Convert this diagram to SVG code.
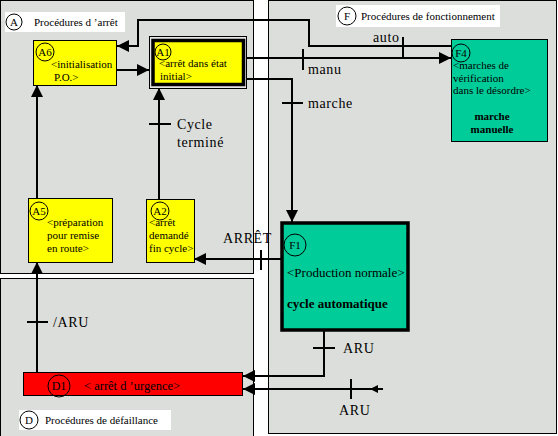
<svg xmlns="http://www.w3.org/2000/svg" width="558" height="436" viewBox="0 0 558 436">
<defs>
<marker id="ah" viewBox="0 0 12 12" refX="12" refY="6" markerWidth="12" markerHeight="12" markerUnits="userSpaceOnUse" orient="auto">
<path d="M0,0 L12,6 L0,12 Z" fill="#000"/>
</marker>
<marker id="ahs" viewBox="0 0 8 8" refX="8" refY="4" markerWidth="8" markerHeight="8" markerUnits="userSpaceOnUse" orient="auto">
<path d="M0,0 L8,4 L0,8 Z" fill="#000"/>
</marker>
</defs>
<style>
.panel{fill:#dcdedb;stroke:#000;stroke-width:1}
.lblbox{fill:#fff;stroke:none}
.c{fill:none;stroke:#000;stroke-width:1}
text{font-family:'Liberation Serif','Times New Roman',serif;fill:#000}
.ps{font-size:11px}
.bx{font-size:11px}
.lb{font-size:14px;letter-spacing:0.6px}
.yel{fill:#ffff00;stroke:#000;stroke-width:1}
.ln{fill:none;stroke:#000;stroke-width:2}
.tk{stroke:#000;stroke-width:2}
</style>
<rect width="558" height="436" fill="#fff"/>
<g id="panelA">
<rect class="panel" x="0.5" y="0.5" width="253" height="273"/>
<rect class="lblbox" x="5" y="12" width="120" height="20"/>
<circle class="c" cx="14" cy="22" r="8"/>
<text class="ps" x="14" y="26" text-anchor="middle">A</text>
<text class="ps" x="34" y="26">Procédures d ’arrêt</text>
</g>
<g id="panelD">
<rect class="panel" x="0.5" y="278.5" width="253" height="160"/>
<rect class="lblbox" x="19" y="410" width="152" height="20"/>
<circle class="c" cx="29" cy="420" r="9"/>
<text class="ps" x="29" y="424" text-anchor="middle">D</text>
<text class="ps" x="45" y="424">Procédures de défaillance</text>
</g>
<g id="panelF">
<rect class="panel" x="268.5" y="0.5" width="288" height="433"/>
<rect class="lblbox" x="336" y="5" width="164" height="22"/>
<circle class="c" cx="347" cy="16" r="9"/>
<text class="ps" x="347" y="20" text-anchor="middle">F</text>
<text class="ps" x="361" y="20">Procédures de fonctionnement</text>
</g>
<g id="connectors">
<polyline class="ln" points="451,46 309,46 309,20 138,20 138,46 117,46" marker-end="url(#ah)"/>
<line class="ln" x1="116" y1="70" x2="149" y2="70" marker-end="url(#ah)"/>
<line class="ln" x1="247" y1="58" x2="451" y2="58" marker-end="url(#ah)"/>
<polyline class="ln" points="247,79 292,79 292,222" marker-end="url(#ah)"/>
<line class="ln" x1="37" y1="198" x2="37" y2="85" marker-end="url(#ah)"/>
<line class="ln" x1="159" y1="199" x2="159" y2="88" marker-end="url(#ah)"/>
<line class="ln" x1="281" y1="259" x2="194" y2="259" marker-end="url(#ah)"/>
<line class="ln" x1="37" y1="372" x2="37" y2="262" marker-end="url(#ah)"/>
<polyline class="ln" points="324,331 324,376 243,376" marker-end="url(#ah)"/>
<line class="ln" x1="383" y1="389" x2="243" y2="389" marker-end="url(#ah)"/>
<line class="ln" x1="383" y1="389" x2="370" y2="389" marker-end="url(#ahs)"/>
<line class="tk" x1="403" y1="37" x2="403" y2="57"/>
<line class="tk" x1="303" y1="49" x2="303" y2="70"/>
<line class="tk" x1="282" y1="103" x2="303" y2="103"/>
<line class="tk" x1="149" y1="124" x2="171" y2="124"/>
<line class="tk" x1="261" y1="250" x2="261" y2="270"/>
<line class="tk" x1="27" y1="322" x2="48" y2="322"/>
<line class="tk" x1="313" y1="348" x2="335" y2="348"/>
<line class="tk" x1="351" y1="379" x2="351" y2="399"/>
<text class="lb" x="373" y="42">auto</text>
<text class="lb" x="308" y="74">manu</text>
<text class="lb" x="308" y="108">marche</text>
<text class="lb" x="177" y="129">Cycle</text>
<text class="lb" x="177" y="147">terminé</text>
<text class="lb" x="223" y="243">ARRÊT</text>
<text class="lb" x="53" y="327">/ARU</text>
<text class="lb" x="343" y="353">ARU</text>
<text class="lb" x="339" y="415">ARU</text>
</g>
<g id="A6">
<rect class="yel" x="33.5" y="40.5" width="83" height="45"/>
<circle class="c" cx="45" cy="52" r="9"/>
<text class="bx" x="45" y="56" text-anchor="middle">A6</text>
<text class="bx" x="51" y="68">&lt;initialisation</text>
<text class="bx" x="54" y="81">P.O.&gt;</text>
</g>
<g id="A1">
<rect x="149.5" y="36.5" width="97" height="52" fill="#e6e6e6" stroke="#000" stroke-width="1"/>
<rect x="153" y="40.5" width="90.5" height="44" fill="#ffff00" stroke="#000" stroke-width="3.5"/>
<circle class="c" cx="163" cy="52" r="8"/>
<text class="bx" x="163" y="56" text-anchor="middle">A1</text>
<text class="bx" x="159" y="67">&lt;arrêt dans état</text>
<text class="bx" x="160" y="80">initial&gt;</text>
</g>
<g id="A5">
<rect class="yel" x="28.5" y="198.5" width="84" height="64"/>
<circle class="c" cx="39" cy="211" r="9"/>
<text class="bx" x="39" y="215" text-anchor="middle">A5</text>
<text class="bx" x="47" y="226">&lt;préparation</text>
<text class="bx" x="47" y="239">pour remise</text>
<text class="bx" x="47" y="252">en route&gt;</text>
</g>
<g id="A2">
<rect class="yel" x="146.5" y="199.5" width="48" height="63"/>
<circle class="c" cx="160" cy="211" r="9"/>
<text class="bx" x="160" y="215" text-anchor="middle">A2</text>
<text class="bx" x="149" y="226">&lt;arrêt</text>
<text class="bx" x="149" y="239">demandé</text>
<text class="bx" x="149" y="252">fin cycle&gt;</text>
</g>
<g id="F4">
<rect x="451.5" y="39.5" width="96" height="102" fill="#00cc99" stroke="#000" stroke-width="1"/>
<circle class="c" cx="461" cy="53" r="9"/>
<text class="bx" x="461" y="57" text-anchor="middle">F4</text>
<text class="bx" x="453" y="69">&lt;marches de</text>
<text class="bx" x="453" y="82">vérification</text>
<text class="bx" x="453" y="94">dans le désordre&gt;</text>
<text class="bx" x="492" y="120" text-anchor="middle" font-weight="bold">marche</text>
<text class="bx" x="492" y="133" text-anchor="middle" font-weight="bold">manuelle</text>
</g>
<g id="F1">
<rect x="282" y="223" width="126" height="107" fill="#00cc99" stroke="#000" stroke-width="3.5"/>
<circle class="c" cx="295" cy="245" r="11"/>
<text class="bx" x="295" y="249" text-anchor="middle">F1</text>
<text x="287" y="277" font-size="13">&lt;Production normale&gt;</text>
<text x="287" y="308" font-size="13" font-weight="bold">cycle automatique</text>
</g>
<g id="D1">
<rect x="23.5" y="372.5" width="219" height="23" fill="#ff0000" stroke="#000" stroke-width="1"/>
<circle class="c" cx="59" cy="386" r="11"/>
<text x="59" y="390" font-size="12" text-anchor="middle">D1</text>
<text x="84" y="390" font-size="12.5">&lt; arrêt d ’urgence&gt;</text>
</g>
</svg>
